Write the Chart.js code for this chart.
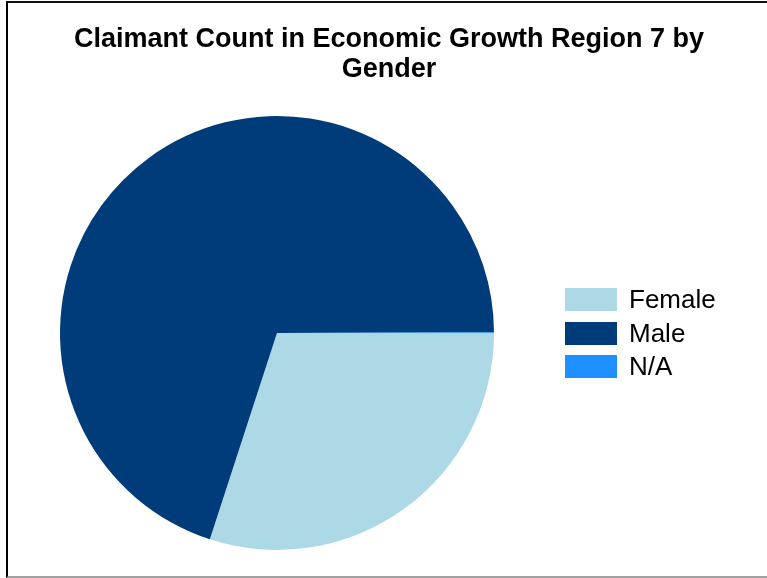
<!DOCTYPE html>
<html>
<head>
<meta charset="utf-8">
<script src="https://cdn.jsdelivr.net/npm/chart.js@4.4.1/dist/chart.umd.min.js"></script>
<style>
  html, body { margin: 0; padding: 0; background: #fff; overflow: hidden; }
  #wrap { position: relative; width: 767px; height: 578px; font-family: "Liberation Sans", Arial, sans-serif; }
  #frame { position: absolute; left: 6px; top: 1px; width: 770px; height: 573px;
           border-left: 2px solid #000; border-top: 2px solid #111; border-bottom: 2px solid #a0a0a0; }
  #title { position: absolute; left: 0; top: 23px; width: 778px; text-align: center;
           font-weight: bold; font-size: 27px; line-height: 30px; color: #000; }
  #chartBox { position: absolute; left: 0; top: 0; width: 767px; height: 578px; }
  #legend { position: absolute; left: 565px; top: 287px; }
  .item { height: 33.5px; position: relative; }
  .box { position: absolute; left: 0; top: 1px; width: 52px; height: 23px; }
  .lab { position: absolute; left: 64px; top: -3px; font-size: 26px; line-height: 30px; color: #000; white-space: nowrap; }
</style>
</head>
<body>
<div id="wrap">
  <div id="frame"></div>
  <div id="chartBox"><canvas id="mycanvas"></canvas></div>
  <div id="title">Claimant Count in Economic Growth Region 7 by<br>Gender</div>
  <div id="legend"></div>
</div>
<script>
// values (share of claimants)
var genders = ["Female", "Male", "N/A"];
var claimants = [2450, 5710, 5];
var sliceColours = ["#ADD8E6", "#003C7A", "#1E90FF"];

var chartdata = {
	labels: genders,
	datasets: [
		{
			label: 'Claimant count',
			data: claimants,
			backgroundColor: sliceColours,
			borderWidth: 0
		}
	]
};

var ctx = document.getElementById("mycanvas");

var pieChart = new Chart(ctx, {
	type: 'pie',
	data: chartdata,
	options: {
		responsive: true,
		maintainAspectRatio: false,
		animation: false,
		rotation: 90,
		layout: { padding: { left: 60, right: 273, top: 116, bottom: 28 } },
		plugins: {
			legend: { display: false },
			title: { display: false },
			tooltip: { enabled: false }
		}
	}
});

// legend built from the same arrays
var legend = document.getElementById("legend");
for (var i in genders) {
	var row = document.createElement("div");
	row.className = "item";
	row.innerHTML = '<div class="box" style="background:' + sliceColours[i] + '"></div>' +
		'<div class="lab">' + genders[i] + '</div>';
	legend.appendChild(row);
}
</script>
</body>
</html>
